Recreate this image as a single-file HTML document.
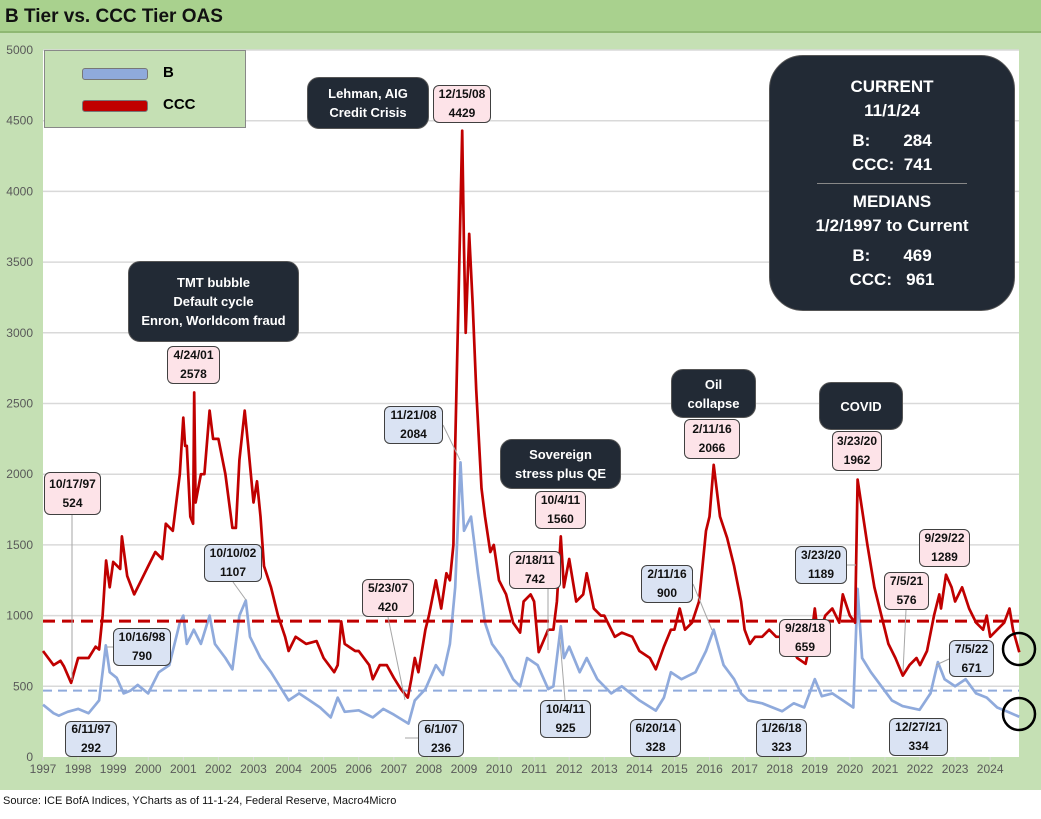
<!DOCTYPE html>
<html><head><meta charset="utf-8"><style>
body{margin:0;background:#fff;font-family:"Liberation Sans",sans-serif}
#wrap{position:relative;width:1041px;height:819px;overflow:hidden}
.lbl{position:absolute;border:1.5px solid #404040;border-radius:6px;font:bold 12px "Liberation Sans",sans-serif;text-align:center;line-height:19px;color:#111;box-sizing:border-box;padding-top:0px;display:flex;flex-direction:column;justify-content:center}
.pk{background:#fde3e8}.bl{background:#dae3f3}
.dk{position:absolute;background:#222a35;color:#fff;border-radius:12px;font:bold 13px "Liberation Sans",sans-serif;text-align:center;line-height:19px;display:flex;flex-direction:column;justify-content:center;border:1px solid #555}
</style></head><body><div id="wrap">
<div style="position:absolute;left:0;top:0;width:1041px;height:31px;background:#a9d18e;border-bottom:2px solid #8fb873"></div>
<div style="position:absolute;left:5px;top:6px;font:bold 19px 'Liberation Sans',sans-serif;color:#111">B Tier vs. CCC Tier OAS</div>
<div style="position:absolute;left:0;top:33px;width:1041px;height:757px;background:#c5e0b4"></div>
<div style="position:absolute;left:3px;top:795px;font:11px 'Liberation Sans',sans-serif;color:#111">Source: ICE BofA Indices, YCharts as of 11-1-24, Federal Reserve, Macro4Micro</div>
<svg id="chart" width="1041" height="819" style="position:absolute;left:0;top:0"></svg>

<div style="position:absolute;left:44px;top:50px;width:202px;height:78px;background:#c5e0b4;border:1px solid #888;box-sizing:border-box">
<div style="position:absolute;left:37px;top:17px;width:64px;height:10px;background:#8faadc;border:1px solid #777;border-radius:3px"></div>
<div style="position:absolute;left:118px;top:13px;font:bold 15px 'Liberation Sans',sans-serif">B</div>
<div style="position:absolute;left:37px;top:49px;width:64px;height:10px;background:#c00000;border:1px solid #777;border-radius:3px"></div>
<div style="position:absolute;left:118px;top:45px;font:bold 15px 'Liberation Sans',sans-serif">CCC</div>
</div>

<div class="dk" style="left:769px;top:55px;width:244px;height:254px;border-radius:34px;font-size:17px;line-height:24px">
<div>CURRENT</div><div>11/1/24</div>
<div style="margin-top:6px">B:&nbsp;&nbsp;&nbsp;&nbsp;&nbsp;&nbsp;&nbsp;284</div><div>CCC:&nbsp;&nbsp;741</div>
<div style="margin:6px auto;width:150px;border-top:1px solid #888"></div>
<div>MEDIANS</div><div>1/2/1997 to Current</div>
<div style="margin-top:6px">B:&nbsp;&nbsp;&nbsp;&nbsp;&nbsp;&nbsp;&nbsp;469</div><div>CCC:&nbsp;&nbsp;&nbsp;961</div>
</div>

<div class="dk" style="left:128px;top:261px;width:169px;height:79px"><div>TMT bubble</div><div>Default cycle</div><div>Enron, Worldcom fraud</div></div>
<div class="dk" style="left:307px;top:77px;width:120px;height:50px"><div>Lehman, AIG</div><div>Credit Crisis</div></div>
<div class="dk" style="left:500px;top:439px;width:119px;height:48px"><div>Sovereign</div><div>stress plus QE</div></div>
<div class="dk" style="left:671px;top:369px;width:83px;height:47px"><div>Oil</div><div>collapse</div></div>
<div class="dk" style="left:819px;top:382px;width:82px;height:46px"><div>COVID</div></div>

<div class="lbl pk" style="left:44px;top:472px;width:57px;height:43px"><div>10/17/97</div><div>524</div></div>
<div class="lbl bl" style="left:65px;top:721px;width:52px;height:36px"><div>6/11/97</div><div>292</div></div>
<div class="lbl bl" style="left:113px;top:628px;width:58px;height:38px"><div>10/16/98</div><div>790</div></div>
<div class="lbl bl" style="left:204px;top:544px;width:58px;height:38px"><div>10/10/02</div><div>1107</div></div>
<div class="lbl pk" style="left:167px;top:346px;width:53px;height:38px"><div>4/24/01</div><div>2578</div></div>
<div class="lbl pk" style="left:433px;top:85px;width:58px;height:38px"><div>12/15/08</div><div>4429</div></div>
<div class="lbl bl" style="left:384px;top:406px;width:59px;height:38px"><div>11/21/08</div><div>2084</div></div>
<div class="lbl pk" style="left:535px;top:491px;width:51px;height:38px"><div>10/4/11</div><div>1560</div></div>
<div class="lbl pk" style="left:509px;top:551px;width:52px;height:38px"><div>2/18/11</div><div>742</div></div>
<div class="lbl bl" style="left:540px;top:700px;width:51px;height:38px"><div>10/4/11</div><div>925</div></div>
<div class="lbl pk" style="left:362px;top:579px;width:52px;height:38px"><div>5/23/07</div><div>420</div></div>
<div class="lbl bl" style="left:418px;top:720px;width:46px;height:37px"><div>6/1/07</div><div>236</div></div>
<div class="lbl bl" style="left:630px;top:719px;width:51px;height:38px"><div>6/20/14</div><div>328</div></div>
<div class="lbl bl" style="left:641px;top:565px;width:52px;height:38px"><div>2/11/16</div><div>900</div></div>
<div class="lbl pk" style="left:684px;top:419px;width:56px;height:40px"><div>2/11/16</div><div>2066</div></div>
<div class="lbl pk" style="left:832px;top:431px;width:50px;height:40px"><div>3/23/20</div><div>1962</div></div>
<div class="lbl bl" style="left:795px;top:546px;width:52px;height:38px"><div>3/23/20</div><div>1189</div></div>
<div class="lbl pk" style="left:779px;top:619px;width:52px;height:38px"><div>9/28/18</div><div>659</div></div>
<div class="lbl bl" style="left:756px;top:719px;width:51px;height:38px"><div>1/26/18</div><div>323</div></div>
<div class="lbl pk" style="left:884px;top:572px;width:45px;height:38px"><div>7/5/21</div><div>576</div></div>
<div class="lbl pk" style="left:919px;top:529px;width:51px;height:38px"><div>9/29/22</div><div>1289</div></div>
<div class="lbl bl" style="left:949px;top:640px;width:45px;height:37px"><div>7/5/22</div><div>671</div></div>
<div class="lbl bl" style="left:889px;top:718px;width:59px;height:38px"><div>12/27/21</div><div>334</div></div>
</div>
<script>
const yTicks=[0,500,1000,1500,2000,2500,3000,3500,4000,4500,5000];
const xTickYears=[1997,1998,1999,2000,2001,2002,2003,2004,2005,2006,2007,2008,2009,2010,2011,2012,2013,2014,2015,2016,2017,2018,2019,2020,2021,2022,2023,2024];
const medianB=469;
const medianCCC=961;
const cccDates=[1997.0,1997.3,1997.5,1997.6,1997.8,1998.0,1998.3,1998.5,1998.6,1998.7,1998.8,1998.9,1999.0,1999.2,1999.25,1999.4,1999.6,1999.8,2000.0,2000.2,2000.4,2000.5,2000.7,2000.9,2001.0,2001.05,2001.1,2001.2,2001.28,2001.31,2001.35,2001.5,2001.6,2001.75,2001.85,2002.0,2002.2,2002.4,2002.5,2002.6,2002.75,2002.85,2003.0,2003.1,2003.2,2003.3,2003.5,2003.7,2003.9,2004.0,2004.2,2004.5,2004.8,2005.0,2005.3,2005.4,2005.5,2005.6,2005.9,2006.0,2006.3,2006.4,2006.6,2006.8,2007.0,2007.2,2007.4,2007.5,2007.6,2007.7,2007.9,2008.0,2008.2,2008.35,2008.5,2008.6,2008.7,2008.75,2008.85,2008.95,2009.0,2009.05,2009.15,2009.25,2009.35,2009.5,2009.6,2009.75,2009.85,2010.0,2010.2,2010.4,2010.6,2010.7,2010.9,2011.0,2011.13,2011.4,2011.55,2011.65,2011.76,2011.85,2012.0,2012.2,2012.4,2012.5,2012.7,2012.9,2013.0,2013.3,2013.5,2013.8,2014.0,2014.3,2014.47,2014.7,2014.9,2015.0,2015.15,2015.3,2015.5,2015.7,2015.9,2016.0,2016.12,2016.3,2016.5,2016.7,2016.9,2017.0,2017.15,2017.3,2017.5,2017.7,2017.9,2018.0,2018.3,2018.5,2018.74,2018.9,2019.0,2019.1,2019.3,2019.5,2019.7,2019.8,2020.0,2020.15,2020.22,2020.35,2020.5,2020.7,2020.9,2021.1,2021.3,2021.51,2021.7,2021.9,2022.0,2022.2,2022.4,2022.55,2022.6,2022.74,2022.9,2023.0,2023.2,2023.4,2023.6,2023.8,2023.9,2024.0,2024.2,2024.4,2024.55,2024.65,2024.83];
const cccValues=[750,650,680,640,524,700,700,780,760,1000,1390,1200,1380,1330,1560,1280,1150,1250,1350,1450,1400,1650,1600,2000,2400,2200,2200,1700,1650,2578,1800,2000,2000,2450,2250,2250,2000,1620,1620,2100,2450,2200,1800,1950,1700,1350,1200,1000,850,750,850,800,820,700,600,650,960,800,750,750,650,550,650,650,560,480,420,550,700,600,900,1000,1250,1050,1300,1250,1500,2200,3300,4429,3600,3000,3700,3200,2600,1900,1700,1450,1500,1250,1150,950,880,1100,1150,1100,742,900,900,1100,1560,1200,1400,1100,1150,1300,1050,1000,1000,850,880,850,750,700,620,780,900,900,1050,900,950,1100,1600,1700,2066,1700,1550,1350,1100,900,800,850,850,900,850,850,800,700,659,850,1050,850,1000,1050,950,1150,1000,950,1962,1750,1500,1200,1000,800,700,576,650,700,650,750,1000,1150,1050,1289,1200,1100,1200,1050,950,900,1000,850,900,950,1050,900,741];
const bDates=[1997.0,1997.3,1997.45,1997.7,1998.0,1998.3,1998.5,1998.6,1998.7,1998.79,1998.9,1999.1,1999.3,1999.5,1999.7,2000.0,2000.3,2000.6,2000.9,2001.0,2001.1,2001.3,2001.5,2001.75,2001.9,2002.2,2002.4,2002.6,2002.78,2002.9,2003.2,2003.5,2003.8,2004.0,2004.3,2004.6,2004.9,2005.2,2005.4,2005.6,2006.0,2006.4,2006.7,2007.0,2007.42,2007.6,2007.9,2008.2,2008.4,2008.6,2008.75,2008.9,2009.0,2009.2,2009.4,2009.6,2009.8,2010.1,2010.4,2010.6,2010.8,2011.1,2011.4,2011.55,2011.76,2011.85,2012.0,2012.3,2012.5,2012.8,2013.2,2013.5,2014.0,2014.47,2014.7,2014.9,2015.2,2015.6,2015.9,2016.12,2016.4,2016.7,2016.9,2017.1,2017.5,2018.07,2018.4,2018.7,2019.0,2019.2,2019.5,2019.8,2020.1,2020.22,2020.35,2020.6,2020.9,2021.2,2021.5,2021.99,2022.3,2022.51,2022.7,2023.0,2023.3,2023.6,2023.9,2024.2,2024.5,2024.83];
const bValues=[370,310,292,320,340,310,370,400,600,790,600,560,450,470,510,450,600,650,950,1000,800,900,800,1000,800,700,620,1000,1107,850,700,600,480,400,450,400,350,280,420,320,330,280,340,300,236,400,480,650,580,800,1200,2084,1600,1700,1300,950,800,700,550,500,700,650,480,500,925,700,780,600,700,550,450,500,400,328,420,600,550,600,750,900,650,550,450,400,380,323,380,350,550,430,450,400,350,1189,700,600,500,400,360,334,450,671,550,500,550,450,420,350,320,284];

const svg=document.getElementById('chart');
const NS='http://www.w3.org/2000/svg';
const L=43,R=1019,T=50,B=757;
function xs(yr){return L+(yr-1997)*35.08;}
function ys(v){return B-v*(B-T)/5000;}
function mk(tag,attrs){const e=document.createElementNS(NS,tag);for(const k in attrs)e.setAttribute(k,attrs[k]);svg.appendChild(e);return e;}
let r=mk('rect',{x:L,y:T,width:R-L,height:B-T,fill:'#fff'});


yTicks.forEach(v=>{
  if(v>0){const g=mk('line',{x1:L,x2:R,y1:ys(v),y2:ys(v),stroke:'#d9d9d9','stroke-width':1.5});
  
  }
  const t=mk('text',{x:33,y:ys(v)+4,'text-anchor':'end','font-size':12,fill:'#595959','font-family':'Liberation Sans, sans-serif'});
  t.textContent=v;
  
  
});
xTickYears.forEach(yr=>{
  const tk=mk('line',{x1:xs(yr),x2:xs(yr),y1:B,y2:B+4,stroke:'#d9d9d9'});
  
  
  const t=mk('text',{x:xs(yr),y:B+16,'text-anchor':'middle','font-size':12,fill:'#595959','font-family':'Liberation Sans, sans-serif'});
  t.textContent=yr;
  
  
});
function path(d,v){return d.map((x,i)=>(i?'L':'M')+xs(x).toFixed(1)+','+ys(v[i]).toFixed(1)).join('');}
let mb=mk('line',{x1:L,x2:R,y1:ys(medianB),y2:ys(medianB),stroke:'#8faadc','stroke-width':2,'stroke-dasharray':'9,6'});


let pb=mk('path',{d:path(bDates,bValues),fill:'none',stroke:'#8faadc','stroke-width':2.7,'stroke-linejoin':'round'});


let pc=mk('path',{d:path(cccDates,cccValues),fill:'none',stroke:'#c00000','stroke-width':2.7,'stroke-linejoin':'round'});


let mc=mk('line',{x1:L,x2:R,y1:ys(medianCCC),y2:ys(medianCCC),stroke:'#c00000','stroke-width':3,'stroke-dasharray':'12,7'});


const leaders=[[72,515,72,680],[171,647,107,647],[233,582,246,600],[443,425,460,460],[388,617,405,700],[418,738,405,738],[548,589,548,650],[565,700,560,640],[693,584,712,630],[847,565,856,565],[906,610,903,672],[949,659,936,665]];
leaders.forEach(l=>{const e=mk('line',{x1:l[0],y1:l[1],x2:l[2],y2:l[3],stroke:'#a6a6a6','stroke-width':1});

});
[[1019,649],[1019,714]].forEach(c=>{const e=mk('circle',{cx:c[0],cy:c[1],r:16,fill:'none',stroke:'#000','stroke-width':2.5});

});
</script>
</body></html>
